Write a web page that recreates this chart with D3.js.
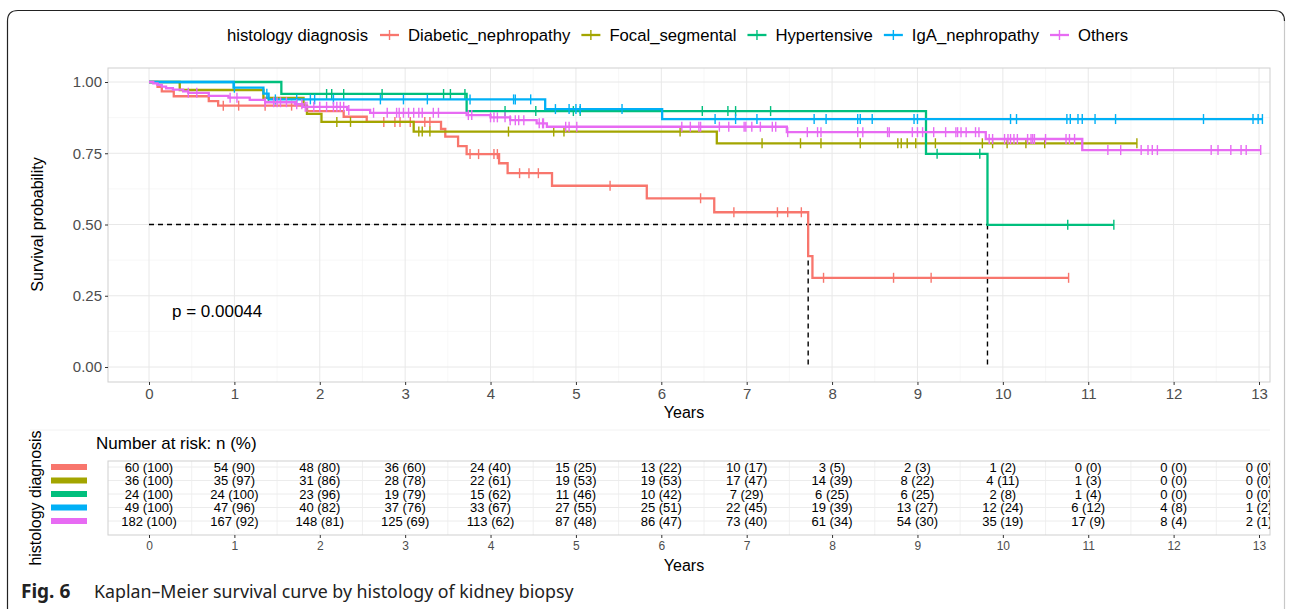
<!DOCTYPE html>
<html>
<head>
<meta charset="utf-8">
<script src="https://cdn.jsdelivr.net/npm/d3@7"></script>
<style>
  body { margin: 0; background: #fff; }
  svg { display: block; font-family: "Liberation Sans", Arial, sans-serif; }
</style>
</head>
<body>
<svg id="chart" width="1292" height="609"></svg>
<script>
// groups in legend / table order
const groups = ['Diabetic_nephropathy', 'Focal_segmental', 'Hypertensive', 'IgA_nephropathy', 'Others'];
const groupColors = ['#F8766D', '#A3A500', '#00BF7D', '#00B0F6', '#E76BF3'];

// Kaplan-Meier step times and survival after each step
const diabeticTimes = [0, 0.10, 0.15, 0.29, 0.70, 0.81, 1.85, 2.28, 2.55, 3.42, 3.47, 3.62, 3.72, 4.10, 4.20, 4.72, 5.83, 6.62, 7.72, 7.77];
const diabeticSurv  = [1, 0.983, 0.967, 0.95, 0.933, 0.917, 0.898, 0.878, 0.86, 0.835, 0.808, 0.775, 0.747, 0.715, 0.68, 0.636, 0.592, 0.543, 0.389, 0.313];
const diabeticCensor = [0.87, 1.05, 1.36, 1.67, 2.75, 2.88, 2.94, 3.06, 3.23, 3.29, 3.76, 3.86, 4.04, 4.08, 4.34, 4.45, 4.56, 5.40, 6.46, 6.85, 7.36, 7.48, 7.64, 7.90, 8.72, 9.16, 10.77];
const diabeticEnd = 10.77;

const focalTimes = [0, 0.36, 1.34, 1.81, 1.85, 2.02, 3.10, 6.65];
const focalSurv  = [1, 0.972, 0.944, 0.916, 0.888, 0.86, 0.826, 0.785];
const focalCensor = [1.40, 2.20, 2.36, 3.16, 3.20, 3.29, 4.21, 4.74, 4.86, 6.22, 7.18, 7.63, 7.87, 8.33, 8.77, 8.81, 8.88, 8.98, 9.21, 9.76, 9.88, 10.05, 10.27, 10.49, 11.57];
const focalEnd = 11.57;

const hyperTimes = [0, 1.55, 3.72, 9.10, 9.82];
const hyperSurv  = [1, 0.958, 0.898, 0.748, 0.499];
const hyperCensor = [2.08, 2.14, 2.28, 2.73, 3.45, 3.53, 3.70, 4.17, 4.53, 4.97, 5.05, 6.48, 6.78, 6.87, 7.28, 9.23, 9.73, 10.76, 11.30];
const hyperEnd = 11.30;

const igaTimes = [0, 0.99, 1.34, 1.40, 4.64, 6.01];
const igaSurv  = [1, 0.98, 0.959, 0.939, 0.905, 0.87];
const igaCensor = [1.00, 1.38, 1.48, 1.73, 1.89, 1.94, 2.16, 2.71, 2.98, 3.26, 3.76, 4.27, 4.29, 4.47, 4.76, 4.92, 5.00, 5.05, 5.54, 6.63, 6.87, 7.12, 7.79, 7.93, 8.30, 8.33, 8.47, 8.96, 9.00, 10.09, 10.16, 10.75, 10.79, 10.88, 10.93, 11.08, 11.32, 12.35, 12.93, 12.99, 13.04];
const igaEnd = 13.04;

const othersTimes = [0, 0.05, 0.10, 0.15, 0.20, 0.28, 0.40, 0.46, 0.70, 0.93, 1.18, 1.36, 1.71, 1.80, 2.32, 2.59, 3.72, 4.00, 4.23, 4.54, 4.66, 7.47, 9.80, 10.93];
const othersSurv  = [1, 0.995, 0.99, 0.984, 0.978, 0.973, 0.967, 0.962, 0.951, 0.945, 0.937, 0.929, 0.922, 0.913, 0.902, 0.892, 0.884, 0.876, 0.866, 0.855, 0.843, 0.824, 0.80, 0.761];
const othersCensor = [0.46, 0.56, 0.95, 1.03, 1.36, 1.46, 1.50, 1.54, 1.61, 1.73, 1.79, 1.83, 1.85, 1.93, 2.00, 2.08, 2.16, 2.20, 2.24, 2.28, 2.34, 2.63, 2.79, 2.90,
  2.93, 2.98, 3.04, 3.10, 3.16, 3.20, 3.33, 3.39, 3.74, 3.78, 4.00, 4.04, 4.08, 4.17, 4.23, 4.29, 4.33, 4.39, 4.57, 4.61, 4.62, 4.88, 4.92, 5.01,
  6.24, 6.34, 6.44, 6.46, 6.68, 6.79, 6.97, 6.99, 7.06, 7.16, 7.30, 7.34, 7.48, 7.71, 7.83, 7.87, 8.30, 8.36, 8.65, 8.67,
  8.94, 9.00, 9.06, 9.19, 9.33, 9.45, 9.47, 9.51, 9.57, 9.68, 9.72, 9.84, 9.88, 10.02, 10.06, 10.09, 10.13, 10.17, 10.29, 10.33, 10.35, 10.37, 10.50,
  10.74, 10.78, 10.84, 11.23, 11.38, 11.62, 11.70, 11.75, 11.81, 12.44, 12.52, 12.67, 12.79, 12.85, 13.02];
const othersEnd = 13.02;

// median survival times (dashed reference lines)
const medianTimes = [7.72, 9.82];
const pValueText = 'p = 0.00044';

// number at risk table
const riskTimes = [0, 1, 2, 3, 4, 5, 6, 7, 8, 9, 10, 11, 12, 13];
const diabeticRisk = [60, 54, 48, 36, 24, 15, 13, 10, 3, 2, 1, 0, 0, 0];
const diabeticPct  = [100, 90, 80, 60, 40, 25, 22, 17, 5, 3, 2, 0, 0, 0];
const focalRisk = [36, 35, 31, 28, 22, 19, 19, 17, 14, 8, 4, 1, 0, 0];
const focalPct  = [100, 97, 86, 78, 61, 53, 53, 47, 39, 22, 11, 3, 0, 0];
const hyperRisk = [24, 24, 23, 19, 15, 11, 10, 7, 6, 6, 2, 1, 0, 0];
const hyperPct  = [100, 100, 96, 79, 62, 46, 42, 29, 25, 25, 8, 4, 0, 0];
const igaRisk = [49, 47, 40, 37, 33, 27, 25, 22, 19, 13, 12, 6, 4, 1];
const igaPct  = [100, 96, 82, 76, 67, 55, 51, 45, 39, 27, 24, 12, 8, 2];
const othersRisk = [182, 167, 148, 125, 113, 87, 86, 73, 61, 54, 35, 17, 8, 2];
const othersPct  = [100, 92, 81, 69, 62, 48, 47, 40, 34, 30, 19, 9, 4, 1];

const yTicks = [0, 0.25, 0.5, 0.75, 1];

const series = [
  { times: diabeticTimes, surv: diabeticSurv, censor: diabeticCensor, end: diabeticEnd, risk: diabeticRisk, pct: diabeticPct },
  { times: focalTimes, surv: focalSurv, censor: focalCensor, end: focalEnd, risk: focalRisk, pct: focalPct },
  { times: hyperTimes, surv: hyperSurv, censor: hyperCensor, end: hyperEnd, risk: hyperRisk, pct: hyperPct },
  { times: igaTimes, surv: igaSurv, censor: igaCensor, end: igaEnd, risk: igaRisk, pct: igaPct },
  { times: othersTimes, surv: othersSurv, censor: othersCensor, end: othersEnd, risk: othersRisk, pct: othersPct }
].map((s, i) => Object.assign(s, { name: groups[i], color: groupColors[i] }));

const svg = d3.select('#chart');

// card frame
svg.append('rect').attr('width', 1292).attr('height', 609).attr('fill', '#fff');
svg.append('path')
  .attr('d', 'M7.5,640 L7.5,21 Q7.5,10.5 18,10.5 L1274,10.5 Q1284.5,10.5 1284.5,21')
  .attr('fill', 'none').attr('stroke', '#222').attr('stroke-width', 1.2);
svg.append('line').attr('x1', 1284.5).attr('x2', 1284.5).attr('y1', 21).attr('y2', 609)
  .attr('stroke', '#c8c8c8').attr('stroke-width', 1.2);

// scales
const x = d3.scaleLinear().domain([0, 13]).range([149, 1259]);
const y = d3.scaleLinear().domain([0, 1]).range([367, 82]);
const panel = { left: 108, right: 1270, top: 68, bottom: 382 };

// ----- main panel -----
const grid = svg.append('g');
const halfTicks = d3.range(-0.5, 13.5, 1);
grid.selectAll('.vminor').data(halfTicks.filter(t => x(t) > panel.left)).enter().append('line')
  .attr('x1', d => x(d)).attr('x2', d => x(d)).attr('y1', panel.top).attr('y2', panel.bottom)
  .attr('stroke', '#f3f3f3').attr('stroke-width', 0.7);
grid.selectAll('.hminor').data([0.125, 0.375, 0.625, 0.875]).enter().append('line')
  .attr('x1', panel.left).attr('x2', panel.right).attr('y1', d => y(d)).attr('y2', d => y(d))
  .attr('stroke', '#f3f3f3').attr('stroke-width', 0.7);
grid.selectAll('.vmajor').data(riskTimes).enter().append('line')
  .attr('x1', d => x(d)).attr('x2', d => x(d)).attr('y1', panel.top).attr('y2', panel.bottom)
  .attr('stroke', '#e8e8e8').attr('stroke-width', 1);
grid.selectAll('.hmajor').data(yTicks).enter().append('line')
  .attr('x1', panel.left).attr('x2', panel.right).attr('y1', d => y(d)).attr('y2', d => y(d))
  .attr('stroke', '#e8e8e8').attr('stroke-width', 1);
svg.append('rect')
  .attr('x', panel.left).attr('y', panel.top)
  .attr('width', panel.right - panel.left).attr('height', panel.bottom - panel.top)
  .attr('fill', 'none').attr('stroke', '#cfcfcf').attr('stroke-width', 1);

// axes
const xAxis = svg.append('g').attr('transform', `translate(0,${panel.bottom})`)
  .call(d3.axisBottom(x).tickValues(riskTimes).tickSize(3).tickPadding(3));
const yAxis = svg.append('g').attr('transform', `translate(${panel.left},0)`)
  .call(d3.axisLeft(y).tickValues(yTicks).tickFormat(d3.format('.2f')).tickSize(3).tickPadding(3));
[xAxis, yAxis].forEach(a => {
  a.select('.domain').remove();
  a.selectAll('.tick line').attr('stroke', '#333');
  a.selectAll('.tick text').attr('fill', '#4d4d4d').style('font-size', '15px')
    .style('font-family', '"Liberation Sans", Arial, sans-serif');
});

svg.append('text').attr('x', 684).attr('y', 418).attr('text-anchor', 'middle')
  .style('font-size', '16px').attr('fill', '#000').text('Years');
svg.append('text').attr('transform', `translate(43,${y(0.5)}) rotate(-90)`)
  .attr('text-anchor', 'middle').style('font-size', '16px').attr('fill', '#000')
  .text('Survival probability');

// median dashed lines
svg.append('line').attr('x1', x(0)).attr('x2', x(d3.max(medianTimes)))
  .attr('y1', y(0.5)).attr('y2', y(0.5))
  .attr('stroke', '#000').attr('stroke-width', 1.4).attr('stroke-dasharray', '5,4');
svg.selectAll('.median').data(medianTimes).enter().append('line')
  .attr('x1', d => x(d)).attr('x2', d => x(d)).attr('y1', y(0.5)).attr('y2', y(0))
  .attr('stroke', '#000').attr('stroke-width', 1.4).attr('stroke-dasharray', '5,4');

// curves
const survAt = (s, t) => s.surv[d3.bisectRight(s.times, t) - 1];
const line = d3.line().x(d => x(d[0])).y(d => y(d[1])).curve(d3.curveStepAfter);
const curves = svg.append('g');
series.forEach(s => {
  const pts = s.times.map((t, i) => [t, s.surv[i]]);
  pts.push([s.end, s.surv[s.surv.length - 1]]);
  const g = curves.append('g');
  g.append('path').attr('d', line(pts)).attr('fill', 'none')
    .attr('stroke', s.color).attr('stroke-width', 2.3);
  g.selectAll('line').data(s.censor).enter().append('line')
    .attr('x1', d => x(d)).attr('x2', d => x(d))
    .attr('y1', d => y(survAt(s, d)) - 5).attr('y2', d => y(survAt(s, d)) + 5)
    .attr('stroke', s.color).attr('stroke-width', 1.4);
});

svg.append('text').attr('x', 172).attr('y', 317).style('font-size', '17px')
  .attr('fill', '#000').text(pValueText);

// legend
const legend = svg.append('g').attr('transform', 'translate(227,35)');
const lgTitle = legend.append('text').attr('y', 6).style('font-size', '16.7px').attr('fill', '#000')
  .text('histology diagnosis');
let lx = lgTitle.node().getComputedTextLength() + 12;
series.forEach(s => {
  const item = legend.append('g').attr('transform', `translate(${lx},0)`);
  item.append('line').attr('x1', 0).attr('x2', 19).attr('y1', 0).attr('y2', 0)
    .attr('stroke', s.color).attr('stroke-width', 2.3);
  item.append('line').attr('x1', 9.5).attr('x2', 9.5).attr('y1', -5).attr('y2', 5)
    .attr('stroke', s.color).attr('stroke-width', 1.4);
  const t = item.append('text').attr('x', 28).attr('y', 6).style('font-size', '16.7px')
    .attr('fill', '#000').text(s.name);
  lx += 28 + t.node().getComputedTextLength() + 11;
});

// faint separator between plot and table
svg.append('line').attr('x1', 30).attr('x2', 1270).attr('y1', 430).attr('y2', 430)
  .attr('stroke', '#f2f2f2').attr('stroke-width', 1);

// ----- risk table -----
const tbl = { top: 461, bottom: 535 };
const row = d3.scalePoint().domain(groups).range([467, 521]);

svg.append('text').attr('x', 96).attr('y', 449).style('font-size', '17px').attr('fill', '#000')
  .text('Number at risk: n (%)');
svg.append('text').attr('transform', `translate(41,${(tbl.top + tbl.bottom) / 2}) rotate(-90)`)
  .attr('text-anchor', 'middle').style('font-size', '16px').attr('fill', '#000')
  .text('histology diagnosis');

const tg = svg.append('g');
tg.selectAll('.tminor').data(halfTicks.filter(t => x(t) > panel.left)).enter().append('line')
  .attr('x1', d => x(d)).attr('x2', d => x(d)).attr('y1', tbl.top).attr('y2', tbl.bottom)
  .attr('stroke', '#ececec').attr('stroke-width', 0.8);
tg.selectAll('.tmajor').data(riskTimes).enter().append('line')
  .attr('x1', d => x(d)).attr('x2', d => x(d)).attr('y1', tbl.top).attr('y2', tbl.bottom)
  .attr('stroke', '#f4f4f4').attr('stroke-width', 0.6);
tg.selectAll('.trow').data(groups).enter().append('line')
  .attr('x1', panel.left).attr('x2', panel.right).attr('y1', d => row(d)).attr('y2', d => row(d))
  .attr('stroke', '#ececec').attr('stroke-width', 1);
svg.append('rect').attr('x', panel.left).attr('y', tbl.top)
  .attr('width', panel.right - panel.left).attr('height', tbl.bottom - tbl.top)
  .attr('fill', 'none').attr('stroke', '#cfcfcf').attr('stroke-width', 1);

svg.append('clipPath').attr('id', 'tblclip').append('rect')
  .attr('x', panel.left).attr('y', tbl.top).attr('width', panel.right - panel.left)
  .attr('height', tbl.bottom - tbl.top);

const cells = svg.append('g').attr('clip-path', 'url(#tblclip)');
series.forEach(s => {
  cells.selectAll(null).data(riskTimes).enter().append('text')
    .attr('x', d => x(d)).attr('y', row(s.name) + 4.5)
    .attr('text-anchor', 'middle').style('font-size', '13px').attr('fill', '#000')
    .text((d, i) => `${s.risk[i]} (${s.pct[i]})`);
});

// colour keys on the left of the table
svg.selectAll('.key').data(series).enter().append('rect')
  .attr('x', 51).attr('width', 36).attr('y', d => row(d.name) - 3).attr('height', 6)
  .attr('fill', d => d.color);

const tAxis = svg.append('g').attr('transform', `translate(0,${tbl.bottom})`)
  .call(d3.axisBottom(x).tickValues(riskTimes).tickSize(3).tickPadding(3));
tAxis.select('.domain').remove();
tAxis.selectAll('.tick line').attr('stroke', '#333');
tAxis.selectAll('.tick text').attr('fill', '#4d4d4d').style('font-size', '12px')
  .style('font-family', '"Liberation Sans", Arial, sans-serif');

svg.append('text').attr('x', 684).attr('y', 571).attr('text-anchor', 'middle')
  .style('font-size', '16px').attr('fill', '#000').text('Years');

// caption
const cap = svg.append('text').attr('x', 21).attr('y', 598)
  .style('font-family', '"Noto Sans", "Open Sans", sans-serif').attr('fill', '#222');
cap.append('tspan').style('font-weight', 'bold').style('font-size', '19px').text('Fig. 6');
cap.append('tspan').attr('x', 94).style('font-size', '17.8px')
  .text('Kaplan–Meier survival curve by histology of kidney biopsy');
</script>
</body>
</html>
